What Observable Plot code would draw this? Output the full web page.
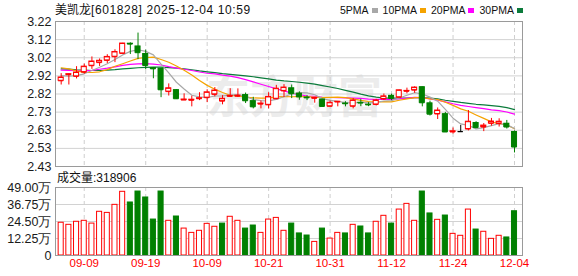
<!DOCTYPE html>
<html><head><meta charset="utf-8">
<script src="https://cdn.jsdelivr.net/npm/d3@7"></script>
<script src="https://cdn.jsdelivr.net/npm/@observablehq/plot@0.6"></script>
<style>
html,body{margin:0;padding:0;background:#fff;}
#wrap{position:relative;width:578px;height:276px;overflow:hidden;font-family:"Liberation Sans",Arial,sans-serif;}
.abs{position:absolute;white-space:nowrap;line-height:1;}
.cjk{font-family:"Noto Sans CJK SC",sans-serif;}
.sq{display:inline-block;width:6px;height:5px;margin-left:3px;vertical-align:middle;position:relative;top:-1px;}
#price,#vol{position:absolute;left:0;}
#price{top:0;} #vol{top:170px;}
#price svg,#vol svg{overflow:visible;}
#wm{position:absolute;left:206px;top:62px;font-family:"Noto Sans CJK SC",sans-serif;font-weight:700;font-size:44px;color:#ececec;}
</style></head>
<body><div id="wrap">
<div id="wm">东方财富</div>
<div id="price"></div>
<div id="vol"></div>
<div class="abs" style="left:55px;top:3px;font-size:12px;color:#111;"><span class="cjk">美凯龙</span><span style="letter-spacing:0.6px">[601828] 2025-12-04 10:59</span></div>
<div id="legend" class="abs" style="left:340px;top:5px;font-size:10.5px;color:#111;"></div>
<div id="volTitle" class="abs" style="left:57px;top:171px;font-size:12px;color:#111;"></div>
</div>
<script>
const dates = ["09-04","09-05","09-08","09-09","09-10","09-11","09-12","09-15","09-16","09-17","09-18","09-19","09-22","09-23","09-24","09-25","09-26","09-29","09-30","10-09","10-10","10-13","10-14","10-15","10-16","10-17","10-20","10-21","10-22","10-23","10-24","10-27","10-28","10-29","10-30","10-31","11-03","11-04","11-05","11-06","11-07","11-10","11-11","11-12","11-13","11-14","11-17","11-18","11-19","11-20","11-21","11-24","11-25","11-26","11-27","11-28","12-01","12-02","12-03","12-04"];
const open  = [2.897,2.930,2.921,2.944,2.979,2.996,3.008,3.028,3.046,3.099,3.084,3.043,2.966,2.963,2.838,2.846,2.792,2.791,2.799,2.805,2.823,2.786,2.812,2.813,2.819,2.786,2.770,2.766,2.799,2.842,2.856,2.827,2.806,2.802,2.795,2.758,2.782,2.773,2.758,2.777,2.767,2.768,2.798,2.815,2.807,2.840,2.846,2.862,2.774,2.716,2.715,2.618,2.620,2.634,2.667,2.645,2.665,2.664,2.663,2.618];
const high  = [2.936,2.936,2.974,2.988,3.027,3.016,3.039,3.066,3.101,3.104,3.157,3.064,2.969,2.964,2.880,2.849,2.826,2.813,2.832,2.848,2.860,2.816,2.854,2.853,2.830,2.807,2.787,2.832,2.872,2.876,2.874,2.837,2.816,2.804,2.796,2.786,2.783,2.783,2.800,2.796,2.778,2.796,2.825,2.824,2.846,2.857,2.864,2.863,2.786,2.749,2.725,2.640,2.654,2.735,2.674,2.664,2.692,2.690,2.681,2.624];
const low   = [2.874,2.874,2.907,2.933,2.959,2.975,2.991,2.996,3.046,3.040,3.012,2.957,2.908,2.805,2.814,2.795,2.790,2.755,2.789,2.778,2.809,2.766,2.806,2.806,2.773,2.744,2.744,2.744,2.795,2.806,2.800,2.791,2.789,2.775,2.756,2.756,2.755,2.755,2.744,2.756,2.756,2.760,2.791,2.789,2.806,2.826,2.829,2.755,2.705,2.686,2.618,2.607,2.620,2.624,2.636,2.620,2.650,2.645,2.634,2.504];
const close = [2.915,2.933,2.942,2.974,3.002,3.006,3.027,3.054,3.100,3.097,3.050,2.980,2.962,2.848,2.856,2.799,2.795,2.794,2.802,2.834,2.844,2.799,2.815,2.816,2.788,2.755,2.773,2.809,2.854,2.860,2.827,2.809,2.804,2.803,2.757,2.777,2.783,2.772,2.790,2.776,2.766,2.790,2.812,2.801,2.845,2.842,2.860,2.777,2.715,2.735,2.618,2.622,2.620,2.674,2.642,2.653,2.675,2.674,2.645,2.536];
const volume = [236000,221000,243000,250000,230000,315000,307000,365000,459000,382000,461000,418000,259000,461000,250000,281000,194000,163000,178000,228000,207000,230000,279000,250000,194000,216000,163000,259000,271000,178000,230000,159000,144000,98000,194000,122000,163000,159000,221000,209000,159000,243000,286000,230000,331000,372000,250000,461000,303000,257000,288000,156000,142000,331000,187000,171000,120000,142000,130000,318906];
const greenVolumeDays = ["10-13"];
const ma5  = [2.925,2.922,2.925,2.935,2.953,2.971,2.990,3.013,3.038,3.057,3.066,3.057,3.038,2.988,2.940,2.889,2.852,2.818,2.809,2.805,2.814,2.815,2.819,2.822,2.812,2.795,2.789,2.788,2.796,2.810,2.825,2.832,2.831,2.821,2.800,2.790,2.785,2.778,2.776,2.780,2.777,2.779,2.787,2.789,2.803,2.818,2.832,2.825,2.808,2.786,2.741,2.693,2.662,2.654,2.635,2.642,2.653,2.664,2.658,2.637];
const ma10 = [2.968,2.962,2.951,2.943,2.942,2.946,2.958,2.976,2.990,3.005,3.019,3.024,3.026,3.013,2.998,2.978,2.954,2.928,2.898,2.872,2.851,2.833,2.818,2.815,2.808,2.804,2.802,2.803,2.809,2.811,2.810,2.811,2.810,2.808,2.805,2.807,2.808,2.805,2.798,2.790,2.784,2.782,2.783,2.782,2.791,2.798,2.805,2.806,2.798,2.794,2.780,2.763,2.744,2.731,2.711,2.692,2.673,2.663,2.656,2.636];
const ma20 = [2.955,2.954,2.952,2.951,2.954,2.960,2.966,2.973,2.981,2.986,2.989,2.990,2.988,2.983,2.974,2.966,2.960,2.953,2.945,2.938,2.935,2.928,2.922,2.914,2.903,2.891,2.878,2.866,2.853,2.842,2.830,2.822,2.814,2.812,2.807,2.806,2.805,2.804,2.803,2.801,2.797,2.796,2.796,2.795,2.798,2.803,2.807,2.805,2.798,2.792,2.782,2.772,2.763,2.757,2.751,2.745,2.739,2.734,2.727,2.715];
const ma30 = [2.962,2.960,2.957,2.955,2.953,2.953,2.955,2.958,2.962,2.965,2.968,2.970,2.971,2.971,2.969,2.966,2.962,2.957,2.951,2.946,2.941,2.936,2.932,2.928,2.924,2.919,2.913,2.907,2.901,2.896,2.893,2.889,2.884,2.879,2.871,2.863,2.855,2.845,2.835,2.824,2.815,2.808,2.803,2.802,2.802,2.803,2.805,2.805,2.802,2.798,2.791,2.785,2.779,2.774,2.769,2.766,2.762,2.758,2.751,2.740];
const priceTicks = [2.43,2.52875,2.6275,2.72625,2.825,2.92375,3.0225,3.12125,3.22];
const priceTickLabels = ["2.43","2.53","2.63","2.73","2.82","2.92","3.02","3.12","3.22"];
const volTicks = [0,12.25,24.5,36.75,49];
const volTickLabels = ["0","12.25万","24.50万","36.75万","49.00万"];
const xTickDates = ["09-09","09-19","10-09","10-21","10-31","11-12","11-24","12-04"];
const maNames = ["5PMA","10PMA","20PMA","30PMA"];
const maColors = ["#a8a8a8","#f5a300","#ff00ff","#0b7b3b"];
const volTitle = "成交量";

const RED = "#ff0000", GREEN = "#008000";
const idx = d3.range(dates.length);
const candles = idx.map(i => ({i, o: open[i], h: high[i], l: low[i], c: close[i],
  dir: close[i] > open[i] ? 1 : close[i] < open[i] ? -1 : 0, v: volume[i] / 10000,
  greenVol: greenVolumeDays.includes(dates[i])}));
const col = d => d.dir > 0 ? RED : d.dir < 0 ? GREEN : "#000000";
const volCol = d => (d.dir >= 0 && !d.greenVol) ? RED : GREEN;
const xTicks = xTickDates.map(s => dates.indexOf(s));
const xDomain = [-0.74, 60.04];
const hw = 0.33;
const font = "'Liberation Sans', Arial, sans-serif";

const mas = [ma30, ma20, ma10, ma5];
const maCols = [maColors[3], maColors[2], maColors[1], maColors[0]];

const price = Plot.plot({
  width: 578, height: 170,
  marginTop: 21, marginBottom: 4, marginLeft: 55, marginRight: 56,
  style: {background: "transparent", fontFamily: font, fontSize: "12.5px", color: "#1a1a1a", overflow: "visible"},
  x: {type: "linear", domain: xDomain, axis: null},
  y: {domain: [2.43, 3.22], ticks: priceTicks, tickSize: 0, tickPadding: 4, label: null,
      tickFormat: d => priceTickLabels[priceTicks.findIndex(t => Math.abs(t - d) < 1e-6)]},
  marks: [
    Plot.ruleY(priceTicks, {stroke: "#d2d2d2"}),
    Plot.ruleX(xTicks, {stroke: "#cfcfcf", strokeDasharray: "4,3"}),
    ...mas.map((m, k) => Plot.line(idx, {x: i => i, y: i => m[i], stroke: maCols[k], strokeWidth: 1.2})),
    Plot.ruleX(candles, {x: "i", y1: "l", y2: "h", stroke: col}),
    Plot.rect(candles, {x1: d => d.i - hw, x2: d => d.i + hw, y1: "o", y2: "c",
      fill: d => d.dir > 0 ? "#ffffff" : col(d), stroke: col}),
    Plot.ruleY(candles, {y: "o", x1: d => d.i - hw, x2: d => d.i + hw, stroke: col}),
    Plot.ruleY(candles, {y: "c", x1: d => d.i - hw, x2: d => d.i + hw, stroke: col}),
    Plot.frame({stroke: "#9a9a9a"})
  ]
});
document.getElementById("price").appendChild(price);

const vol = Plot.plot({
  width: 578, height: 106,
  marginTop: 17, marginBottom: 21, marginLeft: 55, marginRight: 56,
  style: {background: "transparent", fontFamily: font, fontSize: "12.5px", color: "#1a1a1a", overflow: "visible"},
  x: {type: "linear", domain: xDomain, axis: null},
  y: {domain: [0, 49], ticks: volTicks, tickSize: 0, tickPadding: 4, label: null,
      tickFormat: d => volTickLabels[volTicks.findIndex(t => Math.abs(t - d) < 1e-6)]},
  marks: [
    Plot.ruleY(volTicks, {stroke: "#d2d2d2"}),
    Plot.ruleX(xTicks, {stroke: "#cfcfcf", strokeDasharray: "4,3"}),
    Plot.rect(candles, {x1: d => d.i - hw, x2: d => d.i + hw, y1: 0, y2: "v",
      fill: d => volCol(d) === RED ? "#ffffff" : GREEN, stroke: volCol}),
    Plot.text(xTicks, {x: d => d, text: d => dates[d], frameAnchor: "bottom", dy: 11,
      fill: RED, fontSize: 11.5}),
    Plot.frame({stroke: "#9a9a9a"})
  ]
});
document.getElementById("vol").appendChild(vol);

const lg = document.getElementById("legend");
maNames.forEach((n, k) => {
  const s = document.createElement("span");
  s.style.marginRight = k < 3 ? "5px" : "0";
  s.innerHTML = n + `<span class="sq" style="background:${maColors[k]}"></span>`;
  lg.appendChild(s);
});
document.getElementById("volTitle").innerHTML =
  `<span class="cjk">${volTitle}</span>:${volume[volume.length - 1]}`;
</script>
</body></html>
